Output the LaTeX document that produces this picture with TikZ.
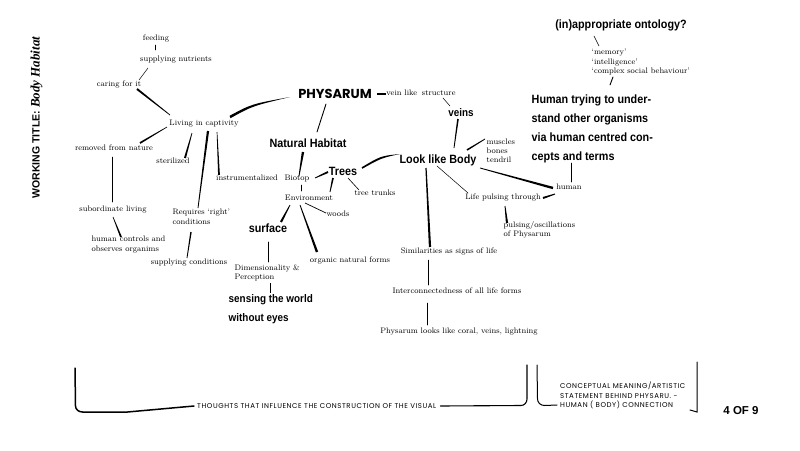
\documentclass[tikz,border=0pt]{standalone}
\usepackage{fontspec}
\usetikzlibrary{calc}
\newfontfamily\lsans{Liberation Sans}
\newfontfamily\lserif{Liberation Serif}
\newfontfamily\blk{Liberation Sans}[FakeStretch=0.9]
\newfontfamily\pop{Poppins}
\newfontfamily\popsp{Poppins}[LetterSpace=8]
\newcommand{\brush}[4]{\fill[ink] ($(#1)!#3!90:(#2)$) -- ($(#2)!#4!-90:(#1)$) -- ($(#2)!#4!90:(#1)$) -- ($(#1)!#3!-90:(#2)$) -- cycle;}
\newcommand{\cbrush}[5]{\fill[ink] ($(#1)!#4!90:(#3)$) .. controls ($(#2)!#5!90:(#3)$) .. (#3) .. controls ($(#2)!#5!-90:(#3)$) .. ($(#1)!#4!-90:(#3)$) -- cycle;}
\tikzset{
  ink/.style={black},
  lbl/.style={font=\fontsize{8}{9.5}\selectfont, text=black, inner sep=0pt, text height=5.6pt, text depth=1.8pt},
  mlbl/.style={font=\fontsize{8}{9.5}\selectfont, text=black, inner sep=0pt, align=left, anchor=north west},
  bl/.style={font=\blk\bfseries\fontsize{12}{19}\selectfont, inner sep=0pt, anchor=base},
  thinl/.style={line width=0.5pt, line cap=round, black},
  medl/.style={line width=0.9pt, line cap=round, black},
  caps/.style={font=\popsp\fontsize{7}{9.5}\selectfont, inner sep=0pt},
}
\begin{document}
\begin{tikzpicture}[x=1pt,y=-1pt]
\useasboundingbox (0,0) rectangle (800,450);
% title
\node[rotate=90, anchor=base, inner sep=0pt] (title) at (39.5,117.5) {\lsans\bfseries\fontsize{10.5}{12}\selectfont WORKING TITLE: \lserif\bfseries\itshape\fontsize{13}{15}\selectfont Body Habitat};
% left cluster
\node[lbl] (feed) at (156,39) {feeding};
\node[lbl] (supn) at (176,60) {supplying nutrients};
\node[lbl] (care) at (119,85) {caring for it};
\node[lbl] (liv) at (204,124) {Living in captivity};
\node[lbl] (rem) at (114,149) {removed from nature};
\node[lbl] (ster) at (173,162) {sterilized};
\node[lbl] (instr) at (247,179) {instrumentalized};
\node[lbl] (subl) at (113,210) {subordinate living};
\node[mlbl] (req) at (172.5,209.2) {Requires ‘right’\\conditions};
\node[mlbl] (hum) at (91.5,236.2) {human controls and\\observes organims};
\node[lbl] (supc) at (189,263) {supplying conditions};
% centre
\node[anchor=base, inner sep=0pt, font=\pop\bfseries\fontsize{13}{15}\selectfont] (phys) at (335,98.5) {PHYSARUM};
\node[lbl] (vein) at (421,94) {vein like\hspace{0.6em}structure};
\node[bl, font=\blk\bfseries\fontsize{11}{13}\selectfont] (veins) at (461,116.5) {veins};
\node[bl] (nat) at (308,147.3) {Natural Habitat};
\node[lbl] (bio) at (297,179) {Biotop};
\node[bl] (trees) at (343,175) {Trees};
\node[lbl] (trunk) at (375,194) {tree trunks};
\node[lbl] (env) at (309,199) {Environment};
\node[lbl] (woods) at (338,215) {woods};
\node[bl] (surf) at (268,232) {surface};
\node[lbl] (org) at (350,261) {organic natural forms};
\node[mlbl] (dim) at (234.5,264.2) {Dimensionality \&\\Perception};
\node[bl, anchor=north west, align=left, font=\blk\bfseries\fontsize{11}{19}\selectfont] (sens) at (228.5,294.2) {sensing the world\\without eyes};
% right cluster
\node[bl] (look) at (438,163.3) {Look like Body};
\node[mlbl, font=\fontsize{8}{9}\selectfont] (musc) at (486.5,139.2) {muscles\\bones\\tendril};
\node[lbl] (human) at (569,188) {human};
\node[lbl] (life) at (503,198) {Life pulsing through};
\node[mlbl, font=\fontsize{8}{9}\selectfont] (puls) at (503.5,221.7) {pulsing/oscillations\\of Physarum};
\node[lbl] (sim) at (449,252) {Similarities as signs of life};
\node[lbl] (inter) at (457,292) {Interconnectedness of all life forms};
\node[lbl] (phl) at (459,332) {Physarum looks like coral, veins, lightning};
\node[bl] (onto) at (621,28.5) {(in)appropriate ontology?};
\node[mlbl] (mem) at (591.5,49.2) {‘memory’\\‘intelligence’\\‘complex social behaviour’};
\node[bl, anchor=north west, align=left] (htry) at (531.5,94.2) {Human trying to under-\\stand other organisms\\via human centred con-\\cepts and terms};
% bottom
\node[caps, anchor=base west] (thought) at (197,408.5) {THOUGHTS THAT INFLUENCE THE CONSTRUCTION OF THE VISUAL};
\node[caps, anchor=north west, align=left] (concept) at (560,382) {CONCEPTUAL MEANING/ARTISTIC\\STATEMENT BEHIND PHYSARU. -\\HUMAN ( BODY) CONNECTION};
\node[anchor=base, inner sep=0pt, font=\lsans\bfseries\fontsize{11.5}{13}\selectfont] (four) at (741,414) {4 OF 9};

% ---------- connectors ----------
\draw[thinl] ($(feed)+(-1,6)$) -- ($(supn)+(-21,-10)$);
\draw[thinl] ($(supn)+(-28,8)$) -- ($(care)+(20,-5)$);
\coordinate (c3a) at ($(care)+(18,4)$); \coordinate (c3b) at ($(liv)+(-34,-9)$);
\brush{c3a}{c3b}{1pt}{0.35pt}
\coordinate (c4a) at ($(liv)+(-37,3)$); \coordinate (c4b) at ($(rem)+(26,-6)$);
\brush{c4b}{c4a}{0.9pt}{0.3pt}
\coordinate (c5a) at ($(liv)+(-12,9)$); \coordinate (c5b) at ($(ster)+(12,-4)$);
\brush{c5b}{c5a}{1pt}{0.35pt}
\coordinate (c6a) at ($(liv)+(4,7)$); \coordinate (c6b) at ($(req.north west)+(25.5,-1.2)$);
\brush{c6a}{c6b}{1.1pt}{0.4pt}
\coordinate (c7a) at ($(liv)+(13,8)$); \coordinate (c7b) at ($(instr)+(-28,-4)$);
\brush{c7b}{c7a}{0.9pt}{0.3pt}
\draw[thinl] ($(rem)+(-2,8)$) -- ($(subl)+(-1,-8)$);
\coordinate (c9a) at ($(subl)+(0,7)$); \coordinate (c9b) at ($(hum.north west)+(29.5,0.8)$);
\brush{c9b}{c9a}{0.9pt}{0.3pt}
\coordinate (c10a) at ($(req.north west)+(18.5,22.8)$); \coordinate (c10b) at ($(supc)+(-2,-5)$);
\brush{c10a}{c10b}{0.7pt}{0.4pt}
\coordinate (c11a) at ($(liv)+(26,-7)$); \coordinate (c11c) at ($(liv)+(48,-19)$); \coordinate (c11b) at ($(phys.base)+(-45,-1.5)$);
\cbrush{c11a}{c11c}{c11b}{1.3pt}{1.1pt}
\draw[line width=1.3pt] ($(phys.base)+(42,-4.5)$) -- ($(vein)+(-35,0)$);
\draw[medl] ($(phys.base)+(-9,5.5)$) -- ($(nat.base)+(9,-15.3)$);
\draw[thinl] ($(vein)+(22,4)$) -- ($(veins.base)+(-11,-10.5)$);
\coordinate (c15a) at ($(veins.base)+(-3,2.5)$); \coordinate (c15b) at ($(look.base)+(16,-15.3)$);
\brush{c15a}{c15b}{0.8pt}{0.4pt}
\coordinate (c16a) at ($(nat.base)+(-5,4.7)$); \coordinate (c16b) at ($(bio)+(2,-3)$);
\brush{c16a}{c16b}{1.2pt}{0.4pt}
\coordinate (c17a) at ($(bio)+(18,-1)$); \coordinate (c17b) at ($(trees.base)+(-15,-3)$);
\brush{c17b}{c17a}{1pt}{0.4pt}
\coordinate (c18a) at ($(trees.base)+(-10,3)$); \coordinate (c18b) at ($(env)+(21,-7)$);
\brush{c18a}{c18b}{0.9pt}{0.4pt}
\draw[line width=0.6pt] ($(trees.base)+(5,3)$) -- ($(trunk)+(-16,-4)$);
\coordinate (c20a) at ($(trees.base)+(19,-7)$); \coordinate (c20c) at ($(trees.base)+(38,-18)$); \coordinate (c20b) at ($(look.base)+(-38,-9.3)$);
\cbrush{c20a}{c20c}{c20b}{0.8pt}{1.1pt}
\draw[thinl] ($(bio)+(4,6)$) -- ($(env)+(-8,-8)$);
\draw[line width=0.7pt] ($(env)+(-4,4)$) -- ($(woods)+(-12,-2)$);
\coordinate (c23a) at ($(env)+(-19,6)$); \coordinate (c23b) at ($(surf.base)+(13,-10)$);
\brush{c23b}{c23a}{1.1pt}{0.4pt}
\coordinate (c24a) at ($(env)+(-9,6)$); \coordinate (c24b) at ($(org)+(-33,-9)$);
\brush{c24b}{c24a}{1.2pt}{0.4pt}
\draw[medl] ($(surf.base)+(0,10)$) -- ($(dim.north west)+(33.5,-2.2)$);
\draw[line width=0.6pt] ($(dim.north west)+(35.5,18.8)$) -- ($(sens.north west)+(41.5,-1.2)$);
\coordinate (c27a) at ($(look.base)+(29,-13.3)$); \coordinate (c27b) at ($(musc.north west)+(-1.5,-0.2)$);
\brush{c27a}{c27b}{0.8pt}{0.4pt}
\coordinate (c28a) at ($(look.base)+(42,4.7)$); \coordinate (c28b) at ($(human)+(-16,0)$);
\brush{c28b}{c28a}{1.2pt}{0.4pt}
\draw[thinl] ($(look.base)+(-1,2.7)$) -- ($(life)+(-35,-5)$);
\coordinate (c30a) at ($(life)+(40,0)$); \coordinate (c30b) at ($(human)+(-14,6)$);
\brush{c30a}{c30b}{1pt}{0.5pt}
\draw[thinl] ($(htry.north west)+(39.5,68.8)$) -- ($(human)+(2,-6)$);
\coordinate (c32a) at ($(life)+(2,8)$); \coordinate (c32b) at ($(puls.north west)+(3.5,1.3)$);
\brush{c32b}{c32a}{1.1pt}{0.4pt}
\coordinate (c33a) at ($(look.base)+(-12,4.7)$); \coordinate (c33b) at ($(sim)+(-19,-5)$);
\brush{c33b}{c33a}{1.1pt}{0.6pt}
\draw[thinl] ($(sim)+(-21,8)$) -- ($(inter)+(-29,-7)$);
\draw[thinl] ($(inter)+(-30,11)$) -- ($(phl)+(-32,-7)$);
\draw[line width=0.6pt] ($(onto.base)+(-27,7.5)$) -- ($(mem.north west)+(7.5,-3.2)$);
\draw[medl] ($(mem.north west)+(21.5,27.8)$) -- ($(htry.north west)+(78.5,-9.2)$);

% ---------- brackets ----------
\coordinate (lbt) at ($(thought.base west)+(-122,-40.5)$);
\draw[line width=1.5pt, line cap=round] (lbt) -- ++(0.5,38) to[out=-90,in=180] ++(7,6) -- ++(45,0) -- ($(thought.base west)+(-3,-2.5)$);
\coordinate (rbt) at ($(thought.base west)+(330,-43.5)$);
\draw[line width=1.1pt, line cap=round] (rbt) -- ++(0,34) to[out=-90,in=0] ++(-6,6.5) -- ($(thought.base east)+(4,-2.5)$);
\coordinate (cbt) at ($(concept.north west)+(-23,-17)$);
\draw[line width=1pt, line cap=round] (cbt) -- ++(0.5,34) to[out=-90,in=180] ++(7,6.5) -- ($(concept.north west)+(-3,23)$);
\coordinate (rvt) at ($(concept.north west)+(137,-20)$);
\draw[line width=1pt, line cap=round] (rvt) -- ++(0,50) -- ++(-7,-2);
\end{tikzpicture}
\end{document}
